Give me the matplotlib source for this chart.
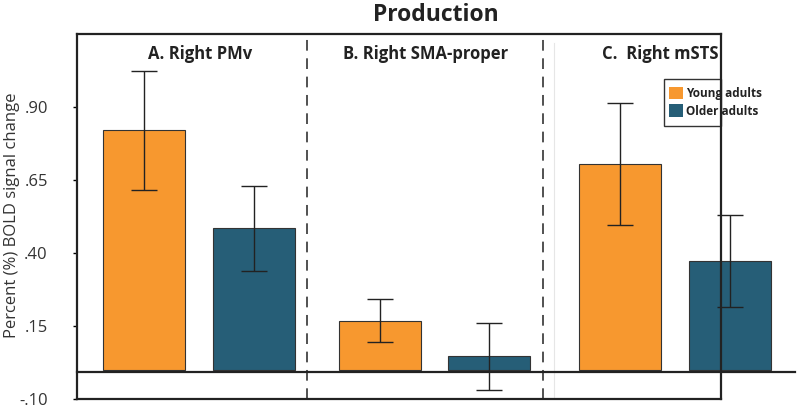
import matplotlib
matplotlib.use("Agg")
import matplotlib.pyplot as plt
from matplotlib.patches import Rectangle

## data (percent BOLD signal change)
regions = ["A. Right PMv", "B. Right SMA-proper", "C.  Right mSTS"]
groups = ["Young adults", "Older adults"]
young_mean = [0.821, 0.167, 0.705]
young_lo = [0.616, 0.095, 0.496]
young_hi = [1.023, 0.242, 0.914]
older_mean = [0.486, 0.047, 0.373]
older_lo = [0.338, -0.069, 0.215]
older_hi = [0.629, 0.160, 0.530]
yticks = [-0.10, 0.15, 0.40, 0.65, 0.90]
yticklabels = ["-.10", ".15", ".40", ".65", ".90"]

orange = "#F7982F"
teal = "#265E77"

plt.rcParams["font.family"] = ["Open Sans", "DejaVu Sans"]

fig = plt.figure(figsize=(8, 4.09), dpi=100)
ax = fig.add_axes([77 / 800, 10 / 409, 644 / 800, 365 / 409])

# bar centres for each region (layout only)
young_x = [0, 2.145, 4.327]
older_x = [1, 3.136, 5.327]
w = 0.745

for i in range(3):
    ax.bar(young_x[i], young_mean[i], w, color=orange, edgecolor="#333333",
           linewidth=0.8, clip_on=False, zorder=1)
    ax.bar(older_x[i], older_mean[i], w, color=teal, edgecolor="#333333",
           linewidth=0.8, clip_on=False, zorder=1)
    ax.errorbar(young_x[i], young_mean[i],
                yerr=[[young_mean[i] - young_lo[i]], [young_hi[i] - young_mean[i]]],
                fmt="none", ecolor="#222222", elinewidth=1, capsize=9.5,
                capthick=1, clip_on=False, zorder=3)
    ax.errorbar(older_x[i], older_mean[i],
                yerr=[[older_mean[i] - older_lo[i]], [older_hi[i] - older_mean[i]]],
                fmt="none", ecolor="#222222", elinewidth=1, capsize=9.5,
                capthick=1, clip_on=False, zorder=3)

ax.set_xlim(-0.609, 5.245)
ax.set_ylim(-0.10, 1.15)

# zero line runs past the right edge
ax.axhline(-0.007, xmin=0, xmax=1.115, color="#222222", linewidth=1.6, clip_on=False, zorder=4)

# dividers
for xd in [1.482, 3.627]:
    ax.axvline(xd, color="#222222", linewidth=1.1, dashes=(7, 5), zorder=2)
ax.axvline(3.727, ymax=0.975, color="#e6e6e6", linewidth=0.8, zorder=0)

# region labels
for xt, name in zip([0.191, 0.542, 0.905], regions):
    ax.text(xt, 0.945, name, transform=ax.transAxes, ha="center", va="center",
            fontsize=12, fontweight="bold", color="#222222")

# legend drawn by hand (text runs over the spine like the original)
ax.add_patch(Rectangle((0.9115, 0.748), 0.0885, 0.1288, transform=ax.transAxes,
                       facecolor="white", edgecolor="#333333", linewidth=1, clip_on=False, zorder=5))
ax.add_patch(Rectangle((0.919, 0.8219), 0.0217, 0.0329, transform=ax.transAxes,
                       facecolor=orange, edgecolor="none", clip_on=False, zorder=6))
ax.add_patch(Rectangle((0.919, 0.7726), 0.0217, 0.0356, transform=ax.transAxes,
                       facecolor=teal, edgecolor="none", clip_on=False, zorder=6))
ax.text(0.9457, 0.838, groups[0], transform=ax.transAxes, va="center", ha="left",
        fontsize=8.5, fontweight="bold", color="#222222", zorder=6.5, clip_on=False)
ax.text(0.9457, 0.789, groups[1], transform=ax.transAxes, va="center", ha="left",
        fontsize=8.5, fontweight="bold", color="#222222", zorder=6.5, clip_on=False)

ax.set_xticks([])
ax.set_yticks(yticks)
ax.set_yticklabels(yticklabels, fontsize=12, color="#333333")
ax.tick_params(axis="y", length=3, width=1, pad=18, direction="out")
for s in ax.spines.values():
    s.set_linewidth(1.6)
    s.set_color("#222222")
    s.set_zorder(7)

fig.text(12 / 800, 1 - 215 / 409, "Percent (%) BOLD signal change", rotation=90,
         ha="center", va="center", fontsize=12, color="#333333")
fig.text(436 / 800, 1 - 15 / 409, "Production", ha="center", va="center",
         fontsize=16.5, fontweight="bold", color="#222222")

fig.savefig("out.png", dpi=100)
